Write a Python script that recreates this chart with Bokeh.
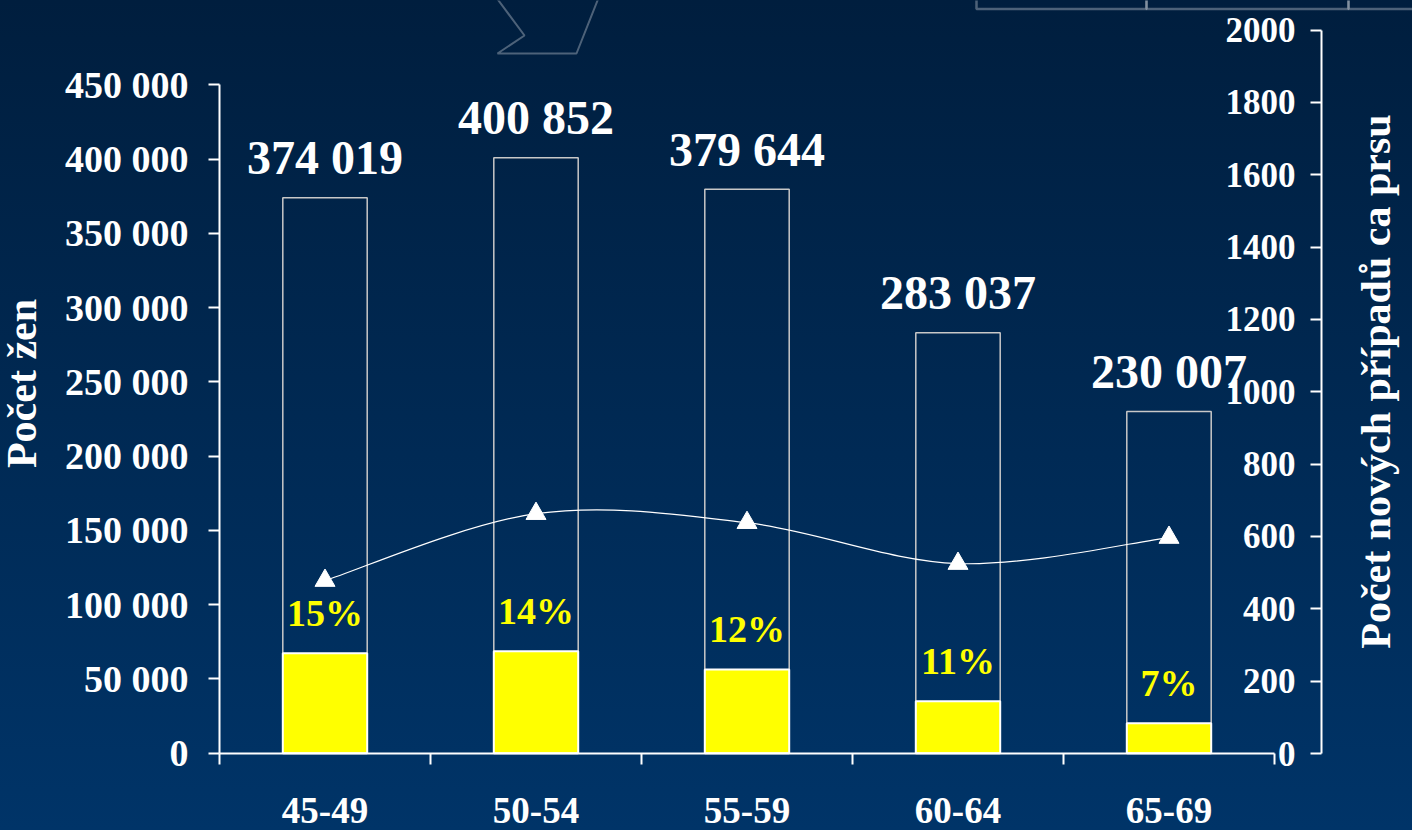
import numpy as np
from bokeh.plotting import figure
from bokeh.models import (Range1d, LinearAxis, FixedTicker, PolyAnnotation,
                          GlobalInlineStyleSheet, ColumnDataSource)
from bokeh.core.properties import value
from bokeh.embed import file_html
from bokeh.resources import INLINE

# ---------------- data ----------------
age_groups = ["45-49", "50-54", "55-59", "60-64", "65-69"]
women_total = [374019, 400852, 379644, 283037, 230007]
women_highlight = [67300, 68700, 56400, 35000, 20200]
share_pct = [15, 14, 12, 11, 7]
new_cases = [478, 663, 638, 525, 597]
left_ticks = list(range(0, 450001, 50000))
right_ticks = list(range(0, 2001, 200))

# ---------------- layout geometry (page pixels) ----------------
W, H = 1412, 830
X0_PX = 219.0          # left edge of first category
UNIT_PX = 211.0        # width of one category
Y0_PX = 752.7          # zero line
LEFT_SCALE = 668.4 / 450000.0
RIGHT_ZERO_PX = 753.0
RIGHT_TOP_PX = 29.5
RIGHT_SCALE = (RIGHT_ZERO_PX - RIGHT_TOP_PX) / 2000.0


def xd(px):
    return (px - X0_PX) / UNIT_PX


def yl(py):
    return (Y0_PX - py) / LEFT_SCALE


def yr(py):
    return (RIGHT_ZERO_PX - py) / RIGHT_SCALE


FONT = "Liberation Serif"

p = figure(width=W, height=H, output_backend="svg", toolbar_location=None,
           x_range=Range1d(xd(0), xd(W)), y_range=Range1d(yl(H), yl(0)),
           x_axis_location=None, y_axis_location=None, title=None,
           min_border=0, min_border_left=0, min_border_right=0,
           min_border_top=0, min_border_bottom=0)
p.extra_y_ranges = {"cases": Range1d(yr(H), yr(0))}
p.background_fill_color = None
p.border_fill_color = None
p.outline_line_color = None
for g in p.grid:
    g.visible = False

p.stylesheets = [GlobalInlineStyleSheet(css=(
    "html{min-height:100%;background:linear-gradient(to bottom,#001e3e 0%,#003468 100%);}"
    "body{background:transparent;margin:0;overflow:hidden;}"))]

n = len(age_groups)
centers = [i + 0.5 for i in range(n)]
src = ColumnDataSource(dict(
    x=centers,
    total=women_total,
    hl=women_highlight,
    total_lbl=[f"{v:,}".replace(",", " ") for v in women_total],
    pct_lbl=[f"{v}%" for v in share_pct],
    cases=new_cases,
))

# bars
p.vbar(x="x", top="total", bottom=0, width=0.4, source=src,
       fill_color=None, line_color="#c8c8c8", line_width=1.5)
p.vbar(x="x", top="hl", bottom=0, width=0.4, source=src,
       fill_color="#ffff00", line_color="white", line_width=2)

# smooth line (Catmull-Rom -> cubic Bezier) on the right axis
xs = np.array(centers, dtype=float)
ys = np.array(new_cases, dtype=float)
Qx = np.concatenate([[xs[0]], xs, [xs[-1]]])
Qy = np.concatenate([[ys[0]], ys, [ys[-1]]])
i = np.arange(n - 1)
p.bezier(x0=xs[:-1], y0=ys[:-1], x1=xs[1:], y1=ys[1:],
         cx0=Qx[i + 1] + (Qx[i + 2] - Qx[i]) / 6, cy0=Qy[i + 1] + (Qy[i + 2] - Qy[i]) / 6,
         cx1=Qx[i + 2] - (Qx[i + 3] - Qx[i + 1]) / 6, cy1=Qy[i + 2] - (Qy[i + 3] - Qy[i + 1]) / 6,
         line_color="white", line_width=1.2, y_range_name="cases")
p.scatter(x="x", y="cases", source=src, marker="triangle", size=20,
          fill_color="white", line_color="white", y_range_name="cases")

# labels
p.text(x="x", y="total", text="total_lbl", source=src,
       text_font=value(FONT), text_font_style="bold", text_font_size="48px",
       text_color="white", text_align="center", text_baseline="middle", y_offset=-40)
p.text(x="x", y="hl", text="pct_lbl", source=src,
       text_font=value(FONT), text_font_style="bold", text_font_size="38px",
       text_color="#ffff00", text_align="center", text_baseline="middle", y_offset=-40)


def base_style(ax, size):
    ax.axis_line_color = "white"
    ax.axis_line_width = 2
    ax.major_tick_line_color = "white"
    ax.major_tick_line_width = 2
    ax.minor_tick_line_color = None
    ax.minor_tick_out = 0
    ax.minor_tick_in = 0
    ax.major_label_text_font = FONT
    ax.major_label_text_font_style = "bold"
    ax.major_label_text_font_size = size
    ax.major_label_text_color = "white"


# left axis (women)
left_ax = LinearAxis(ticker=FixedTicker(ticks=left_ticks), fixed_location=0,
                     bounds=(0, 450000),
                     major_label_overrides={t: f"{t:,}".replace(",", " ") for t in left_ticks})
base_style(left_ax, "38px")
left_ax.major_tick_out = 11
left_ax.major_tick_in = 0
left_ax.major_label_standoff = 20
p.add_layout(left_ax, "left")

# right scale (cases) drawn with labels on its inner side
right_ax = LinearAxis(y_range_name="cases", ticker=FixedTicker(ticks=right_ticks),
                      fixed_location=xd(1321), bounds=(0, 2000))
base_style(right_ax, "35px")
right_ax.major_tick_out = 11
right_ax.major_tick_in = 0
right_ax.major_label_standoff = 15
p.add_layout(right_ax, "left")

# category axis
bottom_ax = LinearAxis(ticker=FixedTicker(ticks=centers, minor_ticks=list(range(n + 1))),
                       fixed_location=0, bounds=(0, n),
                       major_label_overrides={c: g for c, g in zip(centers, age_groups)})
base_style(bottom_ax, "37px")
bottom_ax.major_tick_line_color = None
bottom_ax.major_tick_out = 0
bottom_ax.major_tick_in = 0
bottom_ax.minor_tick_line_color = "white"
bottom_ax.minor_tick_line_width = 2
bottom_ax.minor_tick_out = 11
bottom_ax.minor_tick_in = 0
bottom_ax.major_label_standoff = 34
p.add_layout(bottom_ax, "below")


def title_axis(label, range_name, loc_x, lo, hi):
    ax = LinearAxis(y_range_name=range_name, ticker=FixedTicker(ticks=[]),
                    fixed_location=loc_x, bounds=(lo, hi), axis_label=label)
    ax.axis_line_color = None
    ax.major_tick_line_color = None
    ax.minor_tick_line_color = None
    ax.major_tick_out = 0
    ax.major_tick_in = 0
    ax.minor_tick_out = 0
    ax.minor_tick_in = 0
    ax.axis_label_standoff = 0
    ax.axis_label_text_font = FONT
    ax.axis_label_text_font_style = "bold"
    ax.axis_label_text_font_size = "42px"
    ax.axis_label_text_color = "white"
    p.add_layout(ax, "left")
    return ax


title_axis("Počet žen", "default", xd(44), yl(483), yl(283))
title_axis("Počet nových případů ca prsu", "cases", xd(1398), yr(481), yr(281))

# decorative outline shapes at top (fragments of other slide objects)
arrow_px = [(494.3, -5), (524, 35), (497, 53), (576, 53), (599, -5)]
p.add_layout(PolyAnnotation(xs=[xd(a) for a, b in arrow_px],
                            ys=[yl(b) for a, b in arrow_px],
                            fill_alpha=0, line_color="white", line_width=2))
for left, right in [(976, 1146), (1146, 1348), (1348, 1430)]:
    cell = [(left, -20), (left, 8.5), (right, 8.5), (right, -20)]
    p.add_layout(PolyAnnotation(xs=[xd(a) for a, b in cell],
                                ys=[yl(b) for a, b in cell],
                                fill_alpha=0, line_color="white", line_width=2.5))

open("out.html", "w").write(file_html(p, INLINE))
